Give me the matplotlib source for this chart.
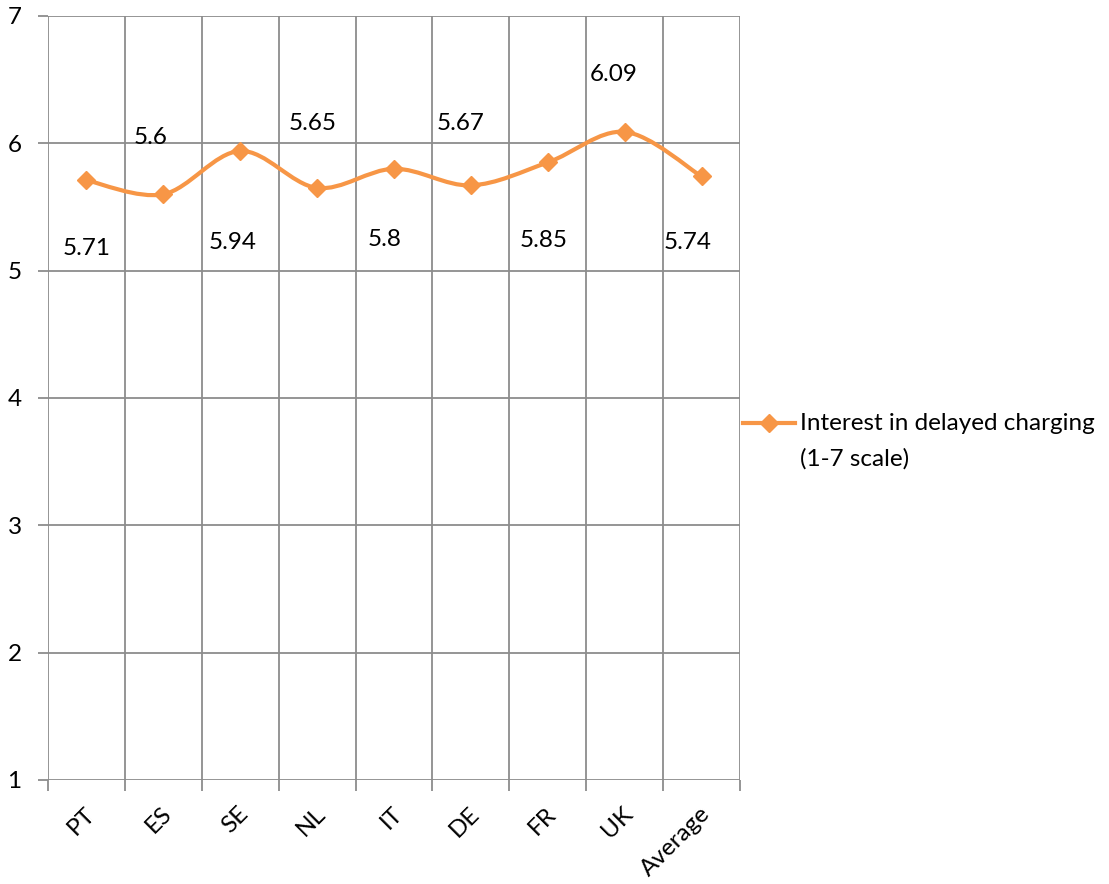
import matplotlib
matplotlib.use("Agg")
import matplotlib.pyplot as plt
import matplotlib.transforms as mtransforms
import numpy as np
from matplotlib.path import Path
from matplotlib.patches import PathPatch
from matplotlib.lines import Line2D

plt.rcParams['font.family'] = ['Lato', 'DejaVu Sans']

categories = ["PT", "ES", "SE", "NL", "IT", "DE", "FR", "UK", "Average"]
values = [5.71, 5.6, 5.94, 5.65, 5.8, 5.67, 5.85, 6.09, 5.74]
series_name = "Interest in delayed charging"
series_note = "(1-7 scale)"
y_ticks = [1, 2, 3, 4, 5, 6, 7]

# label offsets (pixels) from each marker
label_dx = [0, -13, -8, -4, -9, -10, -4, -11, -14]
label_dy = [-68, 57, -92, 64, -71, 62, -78, 57, -66]

ORANGE = "#F79646"
GRID = "#8C8C8C"
FS = 17.5

W, H = 1109, 884
fig = plt.figure(figsize=(W / 100, H / 100), dpi=100)
ax = fig.add_axes([48 / W, 1 - 780 / H, (740 - 48) / W, (780 - 16) / H])

n = len(categories)
x = np.arange(n)
ax.set_xlim(-0.5, n - 0.5)
ax.set_ylim(1, 7)

# gridlines: horizontal at ticks, vertical at category boundaries
for yv in y_ticks:
    ax.axhline(yv, color=GRID, lw=1.3, zorder=1)
for b in np.arange(n + 1) - 0.5:
    ax.axvline(b, color=GRID, lw=1.3, zorder=1)
for s in ax.spines.values():
    s.set_visible(False)

ax.set_yticks(y_ticks)
ax.set_yticklabels([str(v) for v in y_ticks])
ax.tick_params(axis='y', length=7, width=1.3, color=GRID, labelsize=FS, pad=12)

# ticks at boundaries, labels at category centers
ax.set_xticks(np.arange(n + 1) - 0.5)
ax.set_xticklabels([""] * (n + 1))
ax.set_xticks(x, minor=True)
ax.set_xticklabels(categories, minor=True, rotation=45, ha='right', va='center',
                   rotation_mode='anchor', fontsize=FS)
ax.tick_params(axis='x', which='major', length=8, width=1.3, color=GRID)
ax.tick_params(axis='x', which='minor', length=0, pad=22)
shift = mtransforms.ScaledTranslation(5 / 100, 0, fig.dpi_scale_trans)
for lbl in ax.get_xticklabels(minor=True):
    lbl.set_transform(lbl.get_transform() + shift)

# smoothed line through the points (cubic Bezier, Catmull-Rom style)
pts = np.column_stack([x, values]).astype(float)
verts = [tuple(pts[0])]
codes = [Path.MOVETO]
for i in range(n - 1):
    p0 = pts[max(i - 1, 0)]
    p1 = pts[i]
    p2 = pts[i + 1]
    p3 = pts[min(i + 2, n - 1)]
    c1 = p1 + (p2 - p0) / 6.0
    c2 = p2 - (p3 - p1) / 6.0
    verts += [tuple(c1), tuple(c2), tuple(p2)]
    codes += [Path.CURVE4] * 3
ax.add_patch(PathPatch(Path(verts, codes), facecolor='none', edgecolor=ORANGE,
                       lw=3.0, capstyle='round', joinstyle='round', zorder=3))
ax.plot(x, values, linestyle='none', marker='D', markersize=9.5, color=ORANGE,
        markeredgecolor=ORANGE, zorder=4)

for xi, v, dx, dy in zip(x, values, label_dx, label_dy):
    ax.annotate(f"{v:g}", (xi, v), xytext=(dx, dy), textcoords='offset pixels',
                ha='center', va='center', fontsize=FS, color='black', zorder=5)

# legend
ly = 1 - 423 / H
fig.add_artist(Line2D([743 / W, 795 / W], [ly, ly], color=ORANGE, lw=3.0,
                      transform=fig.transFigure))
fig.add_artist(Line2D([769 / W], [ly], marker='D', markersize=9.5, color=ORANGE,
                      linestyle='none', transform=fig.transFigure))
fig.text(800 / W, ly, series_name, ha='left', va='center', fontsize=FS)
fig.text(800 / W, 1 - 459 / H, series_note, ha='left', va='center', fontsize=FS)

fig.savefig("out.png", dpi=100, facecolor='white')
